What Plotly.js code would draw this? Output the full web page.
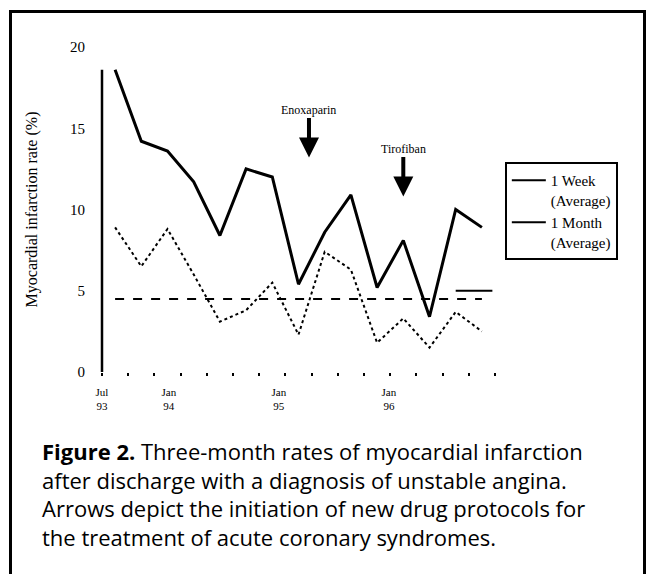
<!DOCTYPE html>
<html><head><meta charset="utf-8">
<script src="https://cdn.plot.ly/plotly-3.0.1.min.js"></script>
<style>
html,body{margin:0;padding:0;background:#fff;}
#frame{position:absolute;left:9px;top:10px;width:637px;height:600px;border:3px solid #000;box-sizing:border-box;}
#chart{position:absolute;left:0;top:0;width:647px;height:574px;}
</style></head>
<body>
<div id="frame"></div>
<div id="chart"></div>
<script>
// Data
const periods = [1,2,3,4,5,6,7,8,9,10,11,12,13,14,15];
const weekAvg  = [18.6,14.2,13.6,11.7,8.4,12.5,12.0,5.4,8.6,10.9,5.2,8.1,3.4,10.0,8.9];
const monthAvg = [8.9,6.5,8.8,6.0,3.1,3.8,5.5,2.3,7.4,6.3,1.8,3.3,1.5,3.7,2.5];
const refLevel = [4.5,4.5];
const refPeriods = [1,15];
const segLevel = [5.0,5.0];
const segPeriods = [14,15.4];
const tickLabels = ["Jul<br>93","Jan<br>94","Jan<br>95","Jan<br>96"];
const tickLabelPos = [0.5,3.05,7.25,11.45];
const eventNames = ["Enoxaparin","Tirofiban"];
const eventPos = [8.4,12.0];
const eventTipY = [13.2,10.8];

const serif = "Liberation Serif, Times New Roman, serif";
const traces = [
  {x:periods,y:weekAvg,type:'scatter',mode:'lines',line:{color:'#000',width:3},showlegend:false,hoverinfo:'skip'},
  {x:periods,y:monthAvg,type:'scatter',mode:'lines',line:{color:'#000',width:2,dash:'dot'},showlegend:false,hoverinfo:'skip'},
  {x:refPeriods,y:refLevel,type:'scatter',mode:'lines',line:{color:'#000',width:2,dash:'dash'},showlegend:false,hoverinfo:'skip'},
  {x:segPeriods,y:segLevel,type:'scatter',mode:'lines',line:{color:'#000',width:2},showlegend:false,hoverinfo:'skip'},
  {x:[null],y:[null],type:'scatter',mode:'lines',line:{color:'#000',width:2},name:'1 Week<br>(Average)'},
  {x:[null],y:[null],type:'scatter',mode:'lines',line:{color:'#000',width:2},name:'1 Month<br>(Average)'},
  {x:[tickLabelPos[0]],y:[null],xaxis:'x2',type:'scatter',showlegend:false,hoverinfo:'skip'}
];

const halfTicks = [];
for (let i=0;i<=periods.length;i++) halfTicks.push(i+0.5);

const annotations = eventNames.map((n,i)=>({
  x:eventPos[i], y:eventTipY[i], xref:'x', yref:'y', text:n, showarrow:true,
  ax:0, ay:-48, arrowhead:2, arrowsize:1.0, arrowwidth:4, arrowcolor:'#000',
  font:{family:serif,size:12,color:'#000'}
}));
annotations.push({
  xref:'paper', yref:'paper', x:-0.158, y:-0.19, xanchor:'left', yanchor:'top', align:'left', showarrow:false,
  text:'<b>Figure 2.</b> Three-month rates of myocardial infarction<br>after discharge with a diagnosis of unstable angina.<br>Arrows depict the initiation of new drug protocols for<br>the treatment of acute coronary syndromes.',
  font:{family:'Open Sans, sans-serif',size:22,color:'#000'}
});

const layout = {
  width:647, height:574,
  margin:{l:102,r:152,t:47,b:202},
  paper_bgcolor:'rgba(0,0,0,0)', plot_bgcolor:'rgba(0,0,0,0)',
  font:{family:serif,color:'#000',size:13},
  xaxis:{range:[0.5,15.5],showgrid:false,zeroline:false,showline:false,
    tickmode:'array',tickvals:halfTicks,ticktext:halfTicks.map(()=>''),ticks:'outside',ticklen:3,tickwidth:2,tickcolor:'#000'},
  xaxis2:{overlaying:'x',side:'bottom',range:[0.5,15.5],showgrid:false,zeroline:false,showline:false,
    tickmode:'array',tickvals:tickLabelPos,ticktext:tickLabels,ticks:'',ticklabelstandoff:12,tickfont:{family:serif,size:11,color:'#000'}},
  yaxis:{range:[0,20],showgrid:false,zeroline:false,showline:false,tickmode:'array',tickvals:[0,5,10,15,20],
    ticks:'',ticklabelstandoff:16,tickfont:{family:serif,size:15,color:'#000'},
    title:{text:'Myocardial infarction rate (%)',font:{family:serif,size:16,color:'#000'},standoff:28}},
  shapes:[{type:'line',xref:'paper',yref:'y',x0:0,x1:0,y0:0,y1:Math.max(...weekAvg),line:{color:'#000',width:2.5}}],
  legend:{x:1.025,y:0.646,xanchor:'left',yanchor:'top',bordercolor:'#000',borderwidth:2,bgcolor:'#fff',
    font:{family:serif,size:15,color:'#000'},valign:'top',itemwidth:34,tracegroupgap:0},
  annotations:annotations,
  showlegend:true
};
Plotly.newPlot('chart',traces,layout,{staticPlot:true,displayModeBar:false});
</script>
</body></html>
